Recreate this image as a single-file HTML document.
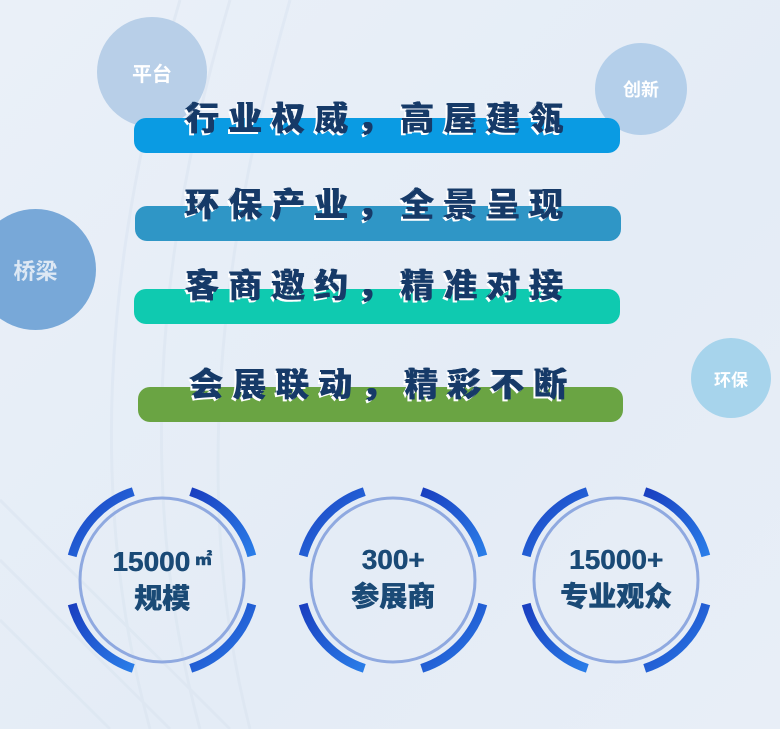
<!DOCTYPE html>
<html><head><meta charset="utf-8"><style>
html,body{margin:0;padding:0}
body{width:780px;height:729px;position:relative;overflow:hidden;background:linear-gradient(135deg,#eaf0f8,#e4ecf6 60%,#e8eef7);font-family:"Liberation Sans","Noto Sans CJK SC",sans-serif}
.b{position:absolute;border-radius:50%;display:flex;align-items:center;justify-content:center;font-weight:bold}
.bar{position:absolute;height:35px;border-radius:12px}
.t{position:absolute;left:134px;width:490px;text-align:center;font-size:33px;font-weight:900;color:#163a68;letter-spacing:10px;text-shadow:-2px 2px 0 #fff,-1px 0 0 #163a68,1px 0 0 #163a68;line-height:36px;white-space:nowrap}
.c{position:absolute;text-align:center;color:#1a4a76;font-weight:900;font-size:28px;line-height:37px;text-shadow:0.5px 0 0 #1a4a76}
</style></head><body>
<svg width="780" height="729" style="position:absolute;left:0;top:0" >
<g stroke="#dbe5f1" stroke-width="3" fill="none" opacity="0.6">
<path d="M150 729 Q60 400 180 0"/><path d="M200 729 Q110 400 230 0"/><path d="M250 729 Q170 420 290 0"/>
<path d="M0 500 L230 729"/><path d="M0 560 L170 729"/><path d="M0 620 L110 729"/>
</g>
</svg>
<div class="b" style="left:97px;top:17px;width:110px;height:110px;background:#b8cfe8;color:#fff;font-size:20px">平台</div>
<div class="b" style="left:595px;top:43px;width:92px;height:92px;background:#b4cfea;color:#fff;font-size:18px">创新</div>
<div class="b" style="left:-25px;top:209px;width:121px;height:121px;background:#78a8d8;color:#dde8f4;font-size:22px">桥梁</div>
<div class="b" style="left:691px;top:338px;width:80px;height:80px;background:#a7d4ec;color:#fff;font-size:17px">环保</div>

<div class="bar" style="left:134px;top:118px;width:486px;background:#0a9be3"></div>
<div class="bar" style="left:135px;top:206px;width:486px;background:#2f96c6"></div>
<div class="bar" style="left:134px;top:289px;width:486px;background:#0fcab0"></div>
<div class="bar" style="left:138px;top:387px;width:485px;background:#6aa443"></div>
<div class="t" style="top:101px">行业权威，高屋建瓴</div>
<div class="t" style="top:187px">环保产业，全景呈现</div>
<div class="t" style="top:268px">客商邀约，精准对接</div>
<div class="t" style="top:367px;left:138px">会展联动，精彩不断</div>

<svg width="780" height="729" style="position:absolute;left:0;top:0">
<defs><linearGradient id="g" x1="0" y1="0" x2="1" y2="1"><stop offset="0" stop-color="#1a3fc0"/><stop offset="1" stop-color="#2a7de8"/></linearGradient></defs>
<g id="r1" transform="translate(162,580)">
<circle r="82" fill="none" stroke="#8fa9e0" stroke-width="3"/>
<g fill="none" stroke="url(#g)" stroke-width="9">
<path d="M-89.8 -24.1 A93 93 0 0 1 -28.7 -88.4"/>
<path d="M28.7 -88.4 A93 93 0 0 1 89.8 -24.1"/>
<path d="M89.8 24.1 A93 93 0 0 1 28.7 88.4"/>
<path d="M-28.7 88.4 A93 93 0 0 1 -89.8 24.1"/>
</g></g>
<use href="#r1" x="231"/>
<use href="#r1" x="454"/>
</svg>
<div class="c" style="left:72px;top:541px;width:180px">15000<span style="font-size:17px;vertical-align:6px"> ㎡</span><br>规模</div>
<div class="c" style="left:303px;top:541px;width:180px">300+<br>参展商</div>
<div class="c" style="left:526px;top:541px;width:180px">15000+<br>专业观众</div>
</body></html>
